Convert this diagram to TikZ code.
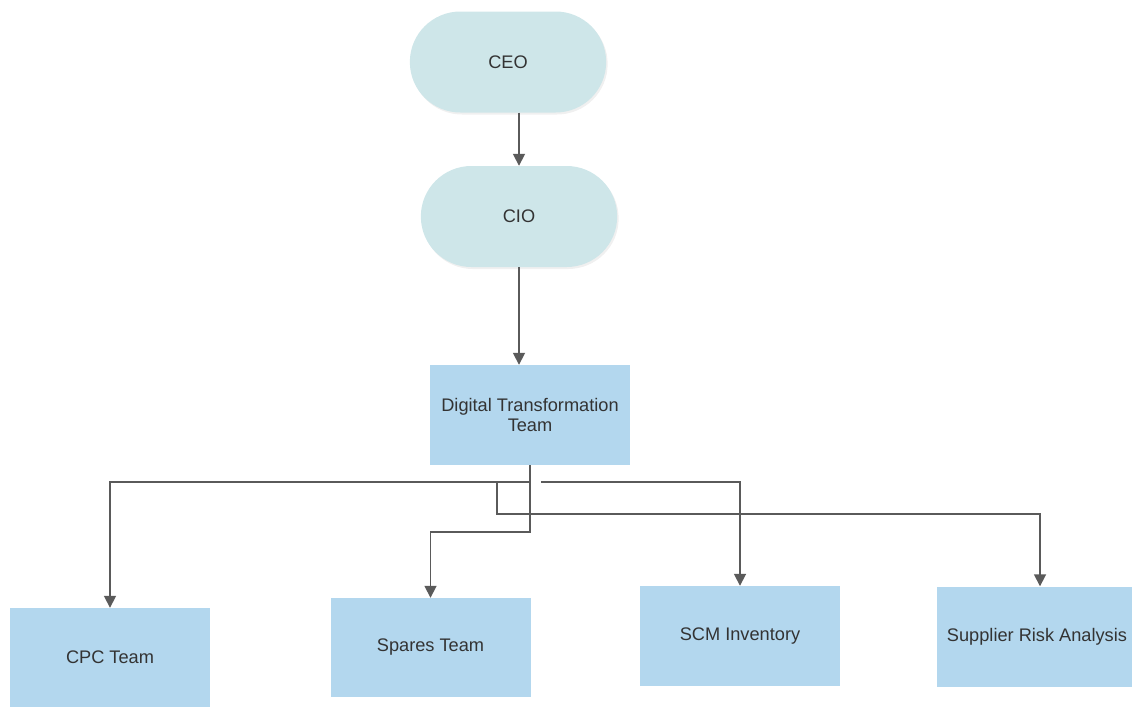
\documentclass[tikz,border=0pt]{standalone}
\usepackage{fontspec}
\setmainfont{Liberation Sans}
\usetikzlibrary{positioning,arrows.meta,calc,shapes.misc,shadows}
\definecolor{pillfill}{HTML}{CEE6E9}
\definecolor{boxfill}{HTML}{B3D7EE}
\definecolor{linegray}{HTML}{5A5A5A}
\definecolor{textgray}{HTML}{333333}
\begin{document}
\begin{tikzpicture}[x=1pt,y=-1pt,>={Triangle[width=12pt,length=12pt]},
  pill/.style={rounded rectangle,fill=pillfill,minimum width=203pt,minimum height=101pt,
    drop shadow={shadow xshift=1.5pt,shadow yshift=-2pt,opacity=0.12},
    font=\fontsize{18.2}{20}\selectfont,text=textgray},
  team/.style={rectangle,fill=boxfill,minimum width=200pt,minimum height=100pt,
    align=center,font=\fontsize{18.2}{20}\selectfont,text=textgray},
  arr/.style={->,draw=linegray,line width=1.7pt}]
\useasboundingbox (0,0) rectangle (1132,707);
% management
\node[pill] (ceo) at (508,62) {CEO};
\node[pill] (cio) at (519,216.5) {CIO};
\node[team] (dtt) at (530,415) {Digital Transformation\\Team};
\draw[arr] (ceo.south -| cio.south) -- (cio.north);
\draw[arr] (cio.south) -- (cio.south |- dtt.north);
% teams
\node[team,minimum height=99pt] (cpc) at (110,657.5) {CPC Team};
\node[team,minimum height=99pt] (spares) at (430.5,647.5) {Spares Team};
\node[team] (scm) at (740,636) {SCM Inventory};
\node[team] (sra) at (1037,636.5) {Supplier Risk Analysis};
% elbow connectors
\draw[arr] (dtt.south) -- ++(0,17) -| (cpc.north);
\draw[arr] (dtt.south) -- ++(0,67) -| (spares.north);
\draw[arr] ($(dtt.south)+(11,17)$) -| (scm.north);
\draw[arr] (dtt.south) -- ++(0,17) -- ++(-33,0) -- ++(0,32) -| ($(sra.north)+(3,0)$);
\end{tikzpicture}
\end{document}
